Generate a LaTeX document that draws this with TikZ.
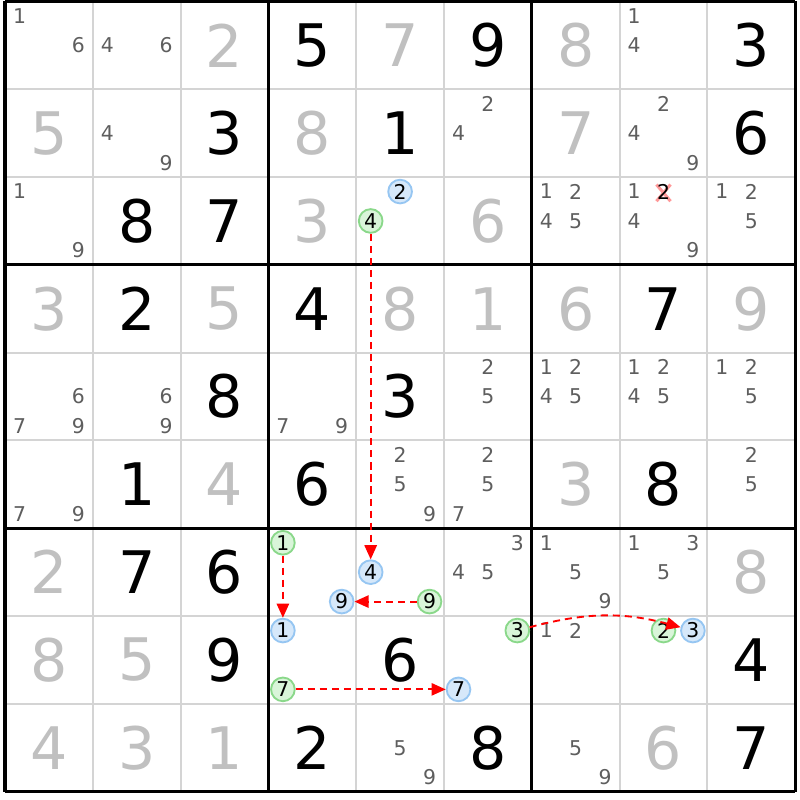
\documentclass[tikz,border=0pt]{standalone}
\usepackage{fontspec}
\setmainfont{DejaVu Sans}
\usepackage{tikz}
\usetikzlibrary{arrows.meta,positioning,calc}
\definecolor{solved}{HTML}{C0C0C0}
\definecolor{pencil}{HTML}{5E5E5E}
\definecolor{gridline}{HTML}{D4D4D4}
\definecolor{onfill}{HTML}{D9F5D9}
\definecolor{ondraw}{HTML}{8AD88A}
\definecolor{offfill}{HTML}{D6E8FA}
\definecolor{offdraw}{HTML}{96C6F2}
\tikzstyle{given}=[font=\fontsize{19}{19}\selectfont,inner sep=0pt]
\tikzstyle{solvedval}=[given,text=solved]
\tikzstyle{cand}=[font=\fontsize{6.6}{7}\selectfont,text=pencil,inner sep=0pt]
\tikzstyle{oncand}=[cand,text=black,circle,draw=ondraw,fill=onfill,minimum size=0.27cm,line width=0.6pt]
\tikzstyle{offcand}=[oncand,draw=offdraw,fill=offfill]
\tikzstyle{link}=[red,dash pattern=on 2.3pt off 1.6pt,line width=0.6pt,-{Triangle[length=4.6pt,width=4pt]}]

\begin{document}
\begin{tikzpicture}
\path[fill=white,use as bounding box] (-0.057,0.017) rectangle (9.055,-9.094);
\foreach \i in {0,...,9} {
  \draw[gridline,line width=0.65pt] (\i,0) -- (\i,-9);
  \draw[gridline,line width=0.65pt] (0,-\i) -- (9,-\i);
}
\foreach \i in {0,3,6,9} {
  \draw[black,line width=1pt] (\i,0) -- (\i,-9);
  \draw[black,line width=1pt] (0,-\i) -- (9,-\i);
}
\foreach \row/\col/\val in {0/3/5,0/5/9,0/8/3,1/2/3,1/4/1,1/8/6,2/1/8,2/2/7,3/1/2,3/3/4,3/7/7,
  4/2/8,4/4/3,5/1/1,5/3/6,5/7/8,6/1/7,6/2/6,7/2/9,7/4/6,7/8/4,8/3/2,8/5/8,8/8/7}
  \node[given] (v\row\col) at (\col+0.5,-\row-0.5) {\val};
\foreach \row/\col/\val in {0/2/2,0/4/7,0/6/8,1/0/5,1/3/8,1/6/7,2/3/3,2/5/6,3/0/3,3/2/5,3/4/8,
  3/5/1,3/6/6,3/8/9,5/2/4,5/6/3,6/0/2,6/8/8,7/0/8,7/1/5,8/0/4,8/1/3,8/2/1,8/7/6}
  \node[solvedval] (v\row\col) at (\col+0.5,-\row-0.5) {\val};
\foreach \row/\col/\set in {0/0/{1,6},0/1/{4,6},0/7/{1,4},1/1/{4,9},1/5/{2,4},1/7/{2,4,9},
  2/0/{1,9},2/6/{1,2,4,5},2/7/{1,4,9},2/8/{1,2,5},4/0/{6,7,9},4/1/{6,9},4/3/{7,9},4/5/{2,5},
  4/6/{1,2,4,5},4/7/{1,2,4,5},4/8/{1,2,5},5/0/{7,9},5/4/{2,5,9},5/5/{2,5,7},5/8/{2,5},
  6/5/{3,4,5},6/6/{1,5,9},6/7/{1,3,5},7/6/{1,2},8/4/{5,9},8/6/{5,9}}
  \foreach \n in \set
    \node[cand] (p\row\col\n) at ({\col+0.165+0.335*mod(\n-1,3)},{-\row-0.165-0.335*int((\n-1)/3)}) {\n};
\coordinate (x2) at (7.5,-2.165);
\draw[red!40,line width=1pt] ($(x2)+(-0.08,0.08)$) -- ($(x2)+(0.08,-0.11)$);
\draw[red!40,line width=1pt] ($(x2)+(0.08,0.08)$) -- ($(x2)+(-0.08,-0.11)$);
\node[cand,text=black] (p272) at (x2) {2};
\node[offcand] (b2) at (4.5,-2.165) {2};
\node[oncand] (g4) at (4.165,-2.5) {4};
\node[offcand] (b4) at (4.165,-6.5) {4};
\node[oncand] (g1) at (3.165,-6.165) {1};
\node[offcand] (b1) at (3.165,-7.165) {1};
\node[offcand] (b9) at (3.835,-6.835) {9};
\node[oncand] (g9) at (4.835,-6.835) {9};
\node[oncand] (g7) at (3.165,-7.835) {7};
\node[offcand] (b7) at (5.165,-7.835) {7};
\node[oncand] (g3) at (5.835,-7.165) {3};
\node[oncand] (g2) at (7.5,-7.165) {2};
\node[offcand] (b3) at (7.835,-7.165) {3};
\draw[link] (g4) -- (b4);
\draw[link] (g1) -- (b1);
\draw[link] (g9) -- (b9);
\draw[link] (g7) -- (b7);
\draw[link] (g3) to[bend left=15] (b3);
\end{tikzpicture}
\end{document}
